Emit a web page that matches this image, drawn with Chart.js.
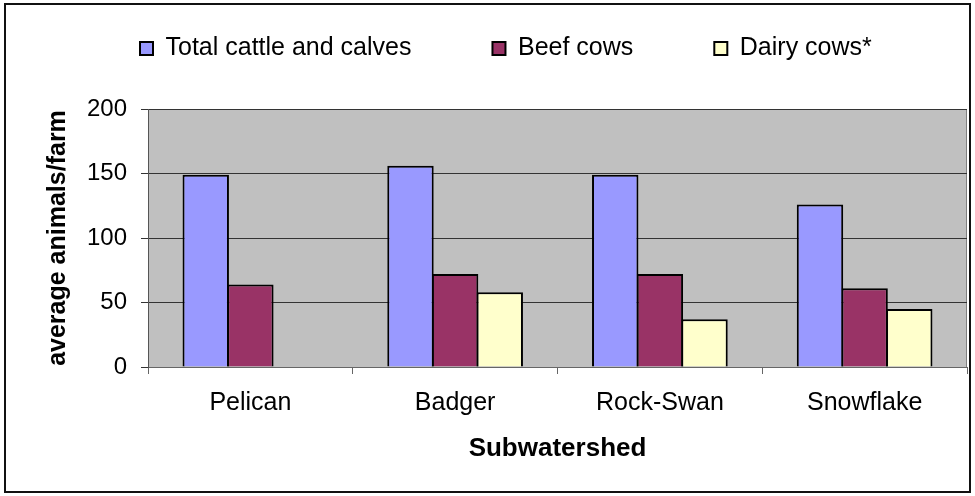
<!DOCTYPE html>
<html>
<head>
<meta charset="utf-8">
<title>Average animals per farm by subwatershed</title>
<script src="https://cdn.jsdelivr.net/npm/chart.js"></script>
<style>
  html, body { margin: 0; padding: 0; background: #ffffff; }
  #wrap { width: 975px; height: 496px; }
</style>
</head>
<body>
<div id="wrap"><canvas id="chart" width="975" height="496"></canvas></div>
<script>
// Subwatersheds along the x axis
const categories = ['Pelican', 'Badger', 'Rock-Swan', 'Snowflake'];

// Average animals per farm
const totalCattle = [149, 156, 149, 126];
const beefCows = [64, 72, 72, 61];
const dairyCows = [null, 58, 37, 45];

// Value axis ticks
const yTicks = [0, 50, 100, 150, 200];

const FONT = '"Liberation Sans", Arial, Helvetica, sans-serif';

// Grey plot panel with a thin frame, plus an outline round the whole figure
const panelPlugin = {
  id: 'panel',
  beforeDraw(chart) {
    const { ctx, chartArea: a } = chart;
    ctx.save();
    ctx.fillStyle = '#c0c0c0';
    ctx.fillRect(a.left, a.top, a.right - a.left, a.bottom - a.top);
    ctx.strokeStyle = '#808080';
    ctx.lineWidth = 1;
    ctx.strokeRect(a.left + 0.5, a.top + 0.5, a.right - a.left - 1, a.bottom - a.top);
    ctx.restore();
  },
  afterDraw(chart) {
    const { ctx } = chart;
    ctx.save();
    ctx.strokeStyle = '#111111';
    ctx.lineWidth = 2;
    ctx.strokeRect(5, 4, 965, 488);
    ctx.restore();
  }
};

// Keeps the legend band a fixed height and puts its row where it belongs
const LEGEND_BAND = 109;
const LEGEND_X = 140;
const LEGEND_Y = 36;
const legendPlacement = {
  id: 'legendPlacement',
  beforeLayout(chart) {
    const lg = chart.legend;
    if (lg && !lg._bandFixed) {
      const fit = lg.fit;
      lg.fit = function () {
        fit.call(this);
        this.height = LEGEND_BAND;
      };
      lg._bandFixed = true;
    }
  },
  afterLayout(chart) {
    const lg = chart.legend;
    if (!lg) return;
    const pad = lg.options.labels.padding;
    lg.left = LEGEND_X - pad;
    lg.top = LEGEND_Y - pad;
  }
};

const barStyle = {
  borderColor: '#000000',
  borderWidth: 2,
  categoryPercentage: 0.654,
  barPercentage: 1.04
};

new Chart(document.getElementById('chart'), {
  type: 'bar',
  data: {
    labels: categories,
    datasets: [
      Object.assign({ label: 'Total cattle and calves', data: totalCattle, backgroundColor: '#9999ff' }, barStyle),
      Object.assign({ label: 'Beef cows', data: beefCows, backgroundColor: '#993366' }, barStyle),
      Object.assign({ label: 'Dairy cows*', data: dairyCows, backgroundColor: '#ffffcc' }, barStyle)
    ]
  },
  options: {
    responsive: false,
    animation: false,
    events: [],
    layout: { padding: { left: 0, right: 8, top: 0, bottom: 0 } },
    plugins: {
      legend: {
        position: 'top',
        align: 'start',
        labels: {
          color: '#000000',
          font: { family: FONT, size: 25 },
          boxWidth: 13,
          boxHeight: 13,
          padding: 81
        }
      },
      tooltip: { enabled: false },
      title: { display: false }
    },
    scales: {
      x: {
        afterFit(scale) { scale.height = 129; },
        grid: {
          display: true,
          offset: true,
          drawOnChartArea: false,
          drawTicks: true,
          tickLength: 7,
          color: '#666666',
          lineWidth: 1
        },
        border: { display: true, color: '#666666', width: 1 },
        ticks: {
          color: '#000000',
          font: { family: FONT, size: 25 },
          padding: 14,
          maxRotation: 0
        },
        title: {
          display: true,
          text: 'Subwatershed',
          color: '#000000',
          font: { family: FONT, size: 26, weight: 'bold' },
          padding: { top: 0, bottom: 32 }
        }
      },
      y: {
        min: 0,
        max: 200,
        afterFit(scale) { scale.width = 148; },
        afterBuildTicks(scale) { scale.ticks = yTicks.map(v => ({ value: v })); },
        grid: {
          color: '#333333',
          lineWidth: 1,
          drawTicks: true,
          tickLength: 7
        },
        border: { display: true, color: '#555555', width: 1 },
        ticks: {
          color: '#000000',
          font: { family: FONT, size: 24 },
          padding: 14
        },
        title: {
          display: true,
          text: 'average animals/farm',
          color: '#000000',
          font: { family: FONT, size: 25, weight: 'bold' },
          padding: { top: 43, bottom: 0 }
        }
      }
    }
  },
  plugins: [panelPlugin, legendPlacement]
});
</script>
</body>
</html>
